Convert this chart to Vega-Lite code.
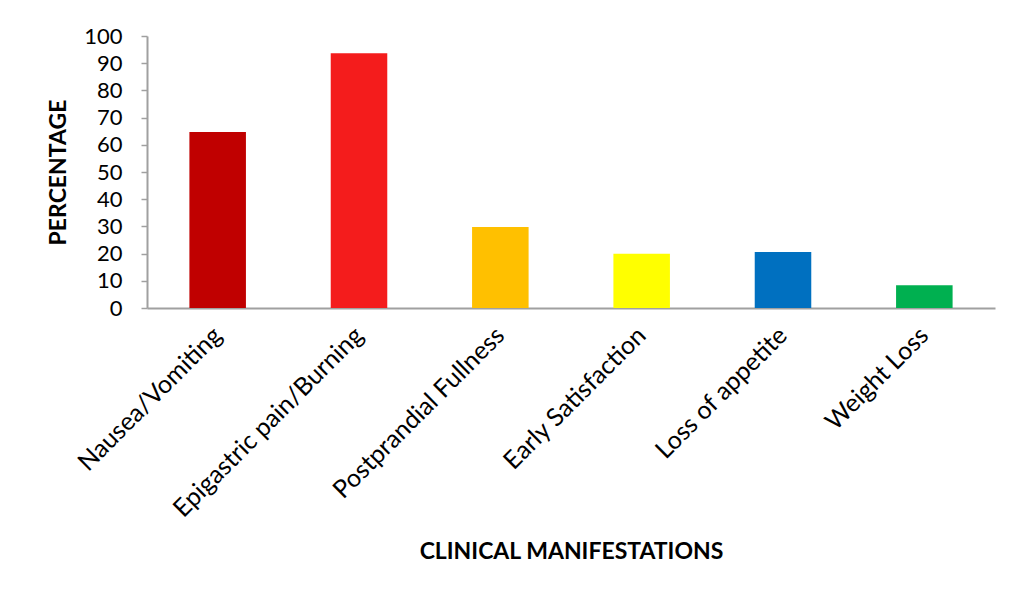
{
  "$schema": "https://vega.github.io/schema/vega-lite/v6.json",
  "width": 848,
  "height": 272,
  "autosize": {"type": "none"},
  "padding": {"left": 147, "top": 36, "right": 15, "bottom": 288},
  "background": "white",
  "config": {"view": {"stroke": null}, "font": "Lato"},
  "data": {
    "values": [
      {"manifestation": "Nausea/Vomiting", "percentage": 64.7},
      {"manifestation": "Epigastric pain/Burning", "percentage": 93.7},
      {"manifestation": "Postprandial Fullness", "percentage": 29.8},
      {"manifestation": "Early Satisfaction", "percentage": 19.9},
      {"manifestation": "Loss of appetite", "percentage": 20.6},
      {"manifestation": "Weight Loss", "percentage": 8.4}
    ]
  },
  "mark": {"type": "bar"},
  "encoding": {
    "x": {
      "field": "manifestation",
      "type": "nominal",
      "sort": null,
      "scale": {"paddingInner": 0.6, "paddingOuter": 0.3},
      "axis": {
        "title": "CLINICAL MANIFESTATIONS",
        "titleFont": "Lato",
        "titleFontSize": 23,
        "titleFontWeight": "bold",
        "titleColor": "#000000",
        "titleX": 424,
        "titleY": 243,
        "titleBaseline": "middle",
        "titleAlign": "center",
        "labelAngle": -45,
        "labelAlign": "right",
        "labelBaseline": "middle",
        "labelFontSize": 25,
        "labelColor": "#000000",
        "labelPadding": 23,
        "labelLimit": 0,
        "labelOverlap": false,
        "ticks": false,
        "domainColor": "#A0A0A0",
        "domainWidth": 2
      }
    },
    "y": {
      "field": "percentage",
      "type": "quantitative",
      "scale": {"domain": [0, 100], "nice": false},
      "axis": {
        "title": "PERCENTAGE",
        "titleFont": "Lato",
        "titleFontSize": 23,
        "titleFontWeight": "bold",
        "titleColor": "#000000",
        "titleAngle": 270,
        "titleX": -89,
        "titleY": 136,
        "titleAlign": "center",
        "titleBaseline": "middle",
        "values": [0, 10, 20, 30, 40, 50, 60, 70, 80, 90, 100],
        "grid": false,
        "labelFontSize": 22,
        "labelColor": "#000000",
        "labelPadding": 19,
        "labelOverlap": false,
        "tickSize": 6,
        "tickColor": "#A0A0A0",
        "tickWidth": 1.5,
        "domainColor": "#A0A0A0",
        "domainWidth": 2
      }
    },
    "color": {
      "field": "manifestation",
      "type": "nominal",
      "legend": null,
      "scale": {
        "domain": ["Nausea/Vomiting", "Epigastric pain/Burning", "Postprandial Fullness", "Early Satisfaction", "Loss of appetite", "Weight Loss"],
        "range": ["#C00000", "#F41C1C", "#FFC000", "#FFFF00", "#0070C0", "#00B050"]
      }
    }
  }
}
